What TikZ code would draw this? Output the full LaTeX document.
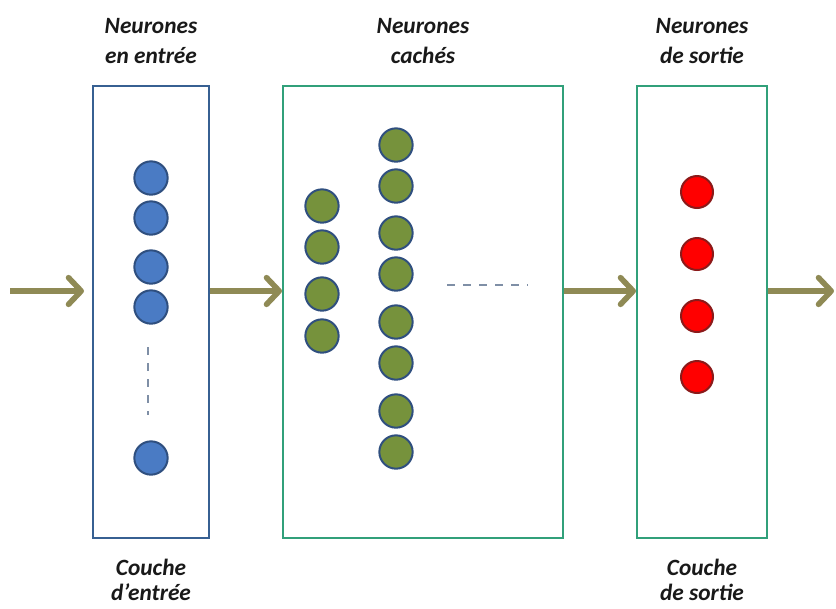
\documentclass[tikz,border=0pt]{standalone}
\usepackage{fontspec}
\setmainfont{Carlito}
\usetikzlibrary{positioning,arrows.meta}
\definecolor{inblue}{HTML}{376092}
\definecolor{boxgreen}{HTML}{31A07A}
\definecolor{dotblue}{HTML}{4A7BC4}
\definecolor{dotgreen}{HTML}{76923C}
\definecolor{dotred}{HTML}{FF0000}
\definecolor{rimblue}{HTML}{2F4F7F}
\definecolor{rimred}{HTML}{8B1A1A}
\definecolor{flow}{HTML}{8F8A55}
\definecolor{dashgray}{HTML}{7F8FA6}
\begin{document}
\begin{tikzpicture}[x=0.75pt, y=-0.75pt,
  layer/.style={draw, line width=1.5pt, minimum width=#1, minimum height=339pt, inner sep=0pt},
  neuron/.style={circle, draw=rimblue, line width=1.5pt, minimum size=25pt, inner sep=0pt},
  lbl/.style={align=center, inner sep=0pt, font=\fontsize{17.5}{22.5}\selectfont\bfseries\itshape, text=black!90},
  caplbl/.style={lbl, font=\fontsize{17.5}{19}\selectfont\bfseries\itshape},
  flowarrow/.style={draw=flow, line width=4.2pt, -{Straight Barb[length=9.5pt, width=20pt, round]}},
  dots/.style={dashgray, line width=1.5pt, dash pattern=on 6pt off 6pt}]
\useasboundingbox (0,0) rectangle (836,608);
% layers
\node[layer=87pt, draw=inblue] (inbox) at (151,312) {};
\node[layer=210pt, draw=boxgreen] (hidbox) at (423,312) {};
\node[layer=97.5pt, draw=boxgreen] (outbox) at (702,312) {};
% titles
\node[lbl, above=15.5pt of inbox] (intitle) {Neurones\\en entrée};
\node[lbl, above=15.5pt of hidbox] (hidtitle) {Neurones\\cachés};
\node[lbl, above=15.5pt of outbox] (outtitle) {Neurones\\de sortie};
\node[caplbl, below=15pt of inbox] (incap) {Couche\\d’entrée};
\node[caplbl, below=15pt of outbox] (outcap) {Couche\\de sortie};
% neurons
\foreach \y [count=\i] in {178,218,267,307,458}
  \node[neuron, fill=dotblue] (in\i) at (151,\y) {};
\foreach \y [count=\i] in {206,247,294,336}
  \node[neuron, fill=dotgreen] (ha\i) at (322,\y) {};
\foreach \y [count=\i] in {145,186,233,274,322,363,411,452}
  \node[neuron, fill=dotgreen] (hb\i) at (396,\y) {};
\foreach \y [count=\i] in {192,254,316,377}
  \node[neuron, fill=dotred, draw=rimred, minimum size=24pt] (out\i) at (697,\y) {};
\draw[dots] (148,347) -- (148,415);
\draw[dots] (447,285) -- (528,285);
% flow
\coordinate (src) at (10,291);
\coordinate (sink) at (834,291);
\draw[flowarrow, shorten >=6pt] (src) -- (src -| inbox.west);
\draw[flowarrow] (inbox.east |- src) -- (hidbox.west |- src);
\draw[flowarrow] (hidbox.east |- src) -- (outbox.west |- src);
\draw[flowarrow] (outbox.east |- src) -- (sink);
\end{tikzpicture}
\end{document}
